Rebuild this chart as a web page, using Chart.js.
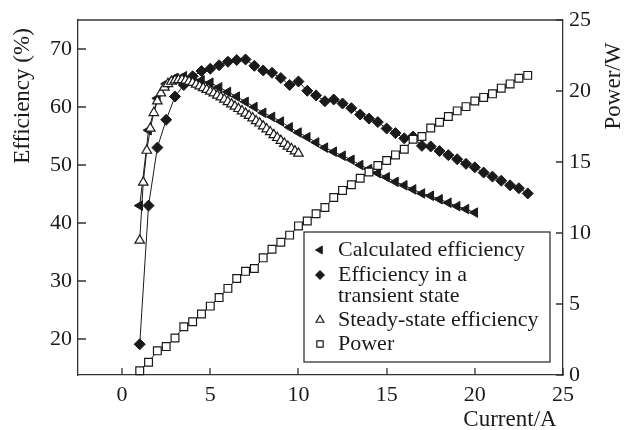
<!DOCTYPE html>
<html><head><meta charset="utf-8">
<script src="https://cdn.jsdelivr.net/npm/chart.js@4/dist/chart.umd.min.js"></script>
<style>html,body{margin:0;padding:0;background:#fff}#wrap{width:625px;height:430px}</style>
</head><body><div id="wrap"><canvas id="c" width="625" height="430"></canvas></div>
<script>
// ---- data ----
const calcCurrent = [1,1.5,2,2.5,3,3.5,4,4.5,5,5.5,6,6.5,7,7.5,8,8.5,9,9.5,10,10.5,11,11.5,12,12.5,13,13.5,14,14.5,15,15.5,16,16.5,17,17.5,18,18.5,19,19.5,20];
const calcEff = [43.0,56.0,61.5,64.0,65.0,65.3,65.0,64.6,64.2,63.4,62.6,61.8,60.9,60.0,59.0,58.3,57.5,56.5,55.6,54.8,53.9,53.0,52.3,51.6,50.9,50.0,49.3,48.6,47.9,47.1,46.5,45.8,45.1,44.7,44.1,43.5,42.9,42.4,41.8];
const transCurrent = [1,1.5,2,2.5,3,3.5,4,4.5,5,5.5,6,6.5,7,7.5,8,8.5,9,9.5,10,10.5,11,11.5,12,12.5,13,13.5,14,14.5,15,15.5,16,16.5,17,17.5,18,18.5,19,19.5,20,20.5,21,21.5,22,22.5,23];
const transEff = [19.1,43.0,53.0,57.8,61.8,63.8,65.3,66.2,66.6,67.2,67.8,68.1,68.2,67.1,66.3,65.9,65.0,63.8,64.4,62.8,62.0,61.0,61.3,60.6,59.8,58.7,58.0,57.4,56.3,55.5,54.6,54.9,53.3,53.2,52.4,51.7,51.0,50.2,49.6,48.7,48.0,47.3,46.5,46.0,45.1];
const steadyCurrent = [1.0,1.2,1.4,1.6,1.8,2.0,2.2,2.4,2.6,2.8,3.0,3.2,3.4,3.6,3.8,4.0,4.2,4.4,4.6,4.8,5.0,5.2,5.4,5.6,5.8,6.0,6.2,6.4,6.6,6.8,7.0,7.2,7.4,7.6,7.8,8.0,8.2,8.4,8.6,8.8,9.0,9.2,9.4,9.6,9.8,10.0];
const steadyEff = [37.0,47.0,52.5,56.3,59.0,61.0,62.4,63.4,64.0,64.4,64.6,64.7,64.7,64.6,64.4,64.2,63.9,63.6,63.3,63.0,62.7,62.4,62.0,61.7,61.3,60.9,60.5,60.1,59.7,59.3,58.9,58.5,58.1,57.6,57.2,56.7,56.2,55.7,55.2,54.7,54.2,53.7,53.2,52.8,52.4,52.0];
const powerCurrent = [1,1.5,2,2.5,3,3.5,4,4.5,5,5.5,6,6.5,7,7.5,8,8.5,9,9.5,10,10.5,11,11.5,12,12.5,13,13.5,14,14.5,15,15.5,16,16.5,17,17.5,18,18.5,19,19.5,20,20.5,21,21.5,22,22.5,23];
const powerW = [0.3,0.9,1.7,2.0,2.6,3.4,3.75,4.3,4.85,5.45,6.1,6.8,7.3,7.5,8.25,8.85,9.35,9.85,10.5,10.85,11.35,11.8,12.5,13.0,13.4,13.85,14.3,14.75,15.1,15.5,15.9,16.6,16.8,17.4,17.8,18.2,18.6,18.9,19.3,19.55,19.8,20.2,20.5,20.9,21.1];
const xTicks = [0,5,10,15,20,25];
const effTicks = [20,30,40,50,60,70];
const powerTicks = [0,5,10,15,20,25];
const seriesNames = ['Calculated efficiency', ['Efficiency in a','transient state'], 'Steady-state efficiency', 'Power'];
const xTitle = 'Current/A';
const yTitle = 'Efficiency (%)';
const y2Title = 'Power/W';

const FONT = '"Liberation Serif","Times New Roman",serif';
const INK = '#1a1a1a';
const AXIS = '#333';

function pts(xs, ys){ return xs.map((x,i)=>({x:x,y:ys[i]})); }

const styles = [
  {pointStyle:'triangle', rotation:-90, radius:5.5, fill:INK, stroke:INK, bw:1},
  {pointStyle:'rectRot', rotation:0, radius:5.5, fill:INK, stroke:INK, bw:1},
  {pointStyle:'triangle', rotation:0, radius:5.5, fill:'#fff', stroke:INK, bw:1.2},
  {pointStyle:'rect', rotation:0, radius:5.5, fill:'#fff', stroke:INK, bw:1.2}
];

function ds(label, data, axis, st, order){
  return {label:label, data:data, yAxisID:axis, order:order, clip:false,
    borderColor:INK, borderWidth:1, showLine:true, tension:0,
    pointStyle:st.pointStyle, pointRotation:st.rotation, pointRadius:st.radius,
    pointBackgroundColor:st.fill, pointBorderColor:st.stroke, pointBorderWidth:st.bw,
    pointHoverRadius:st.radius};
}

function drawMarker(ctx, st, x, y, r){
  ctx.save();
  ctx.fillStyle = st.fill; ctx.strokeStyle = st.stroke; ctx.lineWidth = st.bw;
  ctx.beginPath();
  if (st.pointStyle === 'triangle'){
    let a = st.rotation*Math.PI/180;
    for (let k=0;k<3;k++){ const px=x+Math.sin(a)*r, py=y-Math.cos(a)*r; if(k===0)ctx.moveTo(px,py); else ctx.lineTo(px,py); a+=2*Math.PI/3; }
    ctx.closePath();
  } else if (st.pointStyle === 'rectRot'){
    ctx.moveTo(x,y-r); ctx.lineTo(x+r,y); ctx.lineTo(x,y+r); ctx.lineTo(x-r,y); ctx.closePath();
  } else {
    const h = r*Math.SQRT1_2; ctx.rect(x-h,y-h,2*h,2*h);
  }
  ctx.fill(); ctx.stroke();
  ctx.restore();
}

const decor = {
  id:'decor',
  afterDatasetsDraw(chart){
    const ctx = chart.ctx, a = chart.chartArea;
    const sx = chart.scales.x, sy = chart.scales.y, sy2 = chart.scales.y2;
    ctx.save();
    ctx.strokeStyle = AXIS; ctx.lineWidth = 1.3;
    ctx.beginPath(); ctx.moveTo(a.left, a.top); ctx.lineTo(a.right, a.top); ctx.stroke();
    ctx.beginPath();
    xTicks.forEach(v=>{ const p=Math.round(sx.getPixelForValue(v)); ctx.moveTo(p,a.bottom); ctx.lineTo(p,a.bottom-7); });
    effTicks.forEach(v=>{ const p=Math.round(sy.getPixelForValue(v)); ctx.moveTo(a.left,p); ctx.lineTo(a.left+8,p); });
    powerTicks.forEach(v=>{ const p=Math.round(sy2.getPixelForValue(v)); ctx.moveTo(a.right,p); ctx.lineTo(a.right-7,p); });
    ctx.stroke();

    // legend
    const L = {x:304, y:232, w:246, h:130};
    ctx.fillStyle = '#fff'; ctx.fillRect(L.x, L.y, L.w, L.h);
    ctx.strokeStyle = AXIS; ctx.lineWidth = 1.3; ctx.strokeRect(L.x, L.y, L.w, L.h);
    ctx.font = '22px ' + FONT; ctx.fillStyle = INK; ctx.textBaseline = 'middle'; ctx.textAlign = 'left';
    const rows = [250, 275, 320, 344];
    seriesNames.forEach((name,i)=>{
      drawMarker(ctx, styles[i], 320, rows[i], 4.5);
      if (Array.isArray(name)) { name.forEach((t,j)=>ctx.fillText(t, 338, rows[i] + j*21)); }
      else ctx.fillText(name, 338, rows[i]);
    });

    // axis titles
    ctx.font = '23px ' + FONT; ctx.fillStyle = INK; ctx.textAlign = 'center'; ctx.textBaseline = 'middle';
    ctx.fillText(xTitle, 510, 420);
    ctx.save(); ctx.translate(23, 96); ctx.rotate(-Math.PI/2); ctx.fillText(yTitle, 0, 0); ctx.restore();
    ctx.save(); ctx.translate(614, 86); ctx.rotate(-Math.PI/2); ctx.fillText(y2Title, 0, 0); ctx.restore();
    ctx.restore();
  }
};

const tickFont = {family:FONT, size:22};
new Chart(document.getElementById('c'), {
  type:'scatter',
  data:{ datasets:[
    ds(seriesNames[0], pts(calcCurrent, calcEff), 'y', styles[0], 3),
    ds(seriesNames[1].join(' '), pts(transCurrent, transEff), 'y', styles[1], 2),
    ds(seriesNames[2], pts(steadyCurrent, steadyEff), 'y', styles[2], 1),
    ds(seriesNames[3], pts(powerCurrent, powerW), 'y2', styles[3], 0)
  ]},
  options:{
    responsive:false, animation:false, devicePixelRatio:1,
    layout:{padding:{top:20,left:0,right:0,bottom:0}},
    plugins:{legend:{display:false}, tooltip:{enabled:false}},
    scales:{
      x:{type:'linear', position:'bottom', min:-2.5, max:25,
        afterBuildTicks:s=>{s.ticks = xTicks.map(v=>({value:v}));},
        afterFit:s=>{s.height = 55;},
        grid:{display:false, drawTicks:false}, border:{display:true, color:AXIS, width:1.3},
        ticks:{font:tickFont, color:INK, padding:7, maxRotation:0}},
      y:{type:'linear', position:'left', min:13.8, max:75,
        afterBuildTicks:s=>{s.ticks = effTicks.map(v=>({value:v}));},
        afterFit:s=>{s.width = 78;},
        grid:{display:false, drawTicks:false}, border:{display:true, color:AXIS, width:1.3},
        ticks:{font:tickFont, color:INK, padding:6}},
      y2:{type:'linear', position:'right', min:0, max:25,
        afterBuildTicks:s=>{s.ticks = powerTicks.map(v=>({value:v}));},
        afterFit:s=>{s.width = 62;},
        grid:{display:false, drawTicks:false}, border:{display:true, color:AXIS, width:1.3},
        ticks:{font:tickFont, color:INK, padding:6}}
    }
  },
  plugins:[decor]
});
</script></body></html>
